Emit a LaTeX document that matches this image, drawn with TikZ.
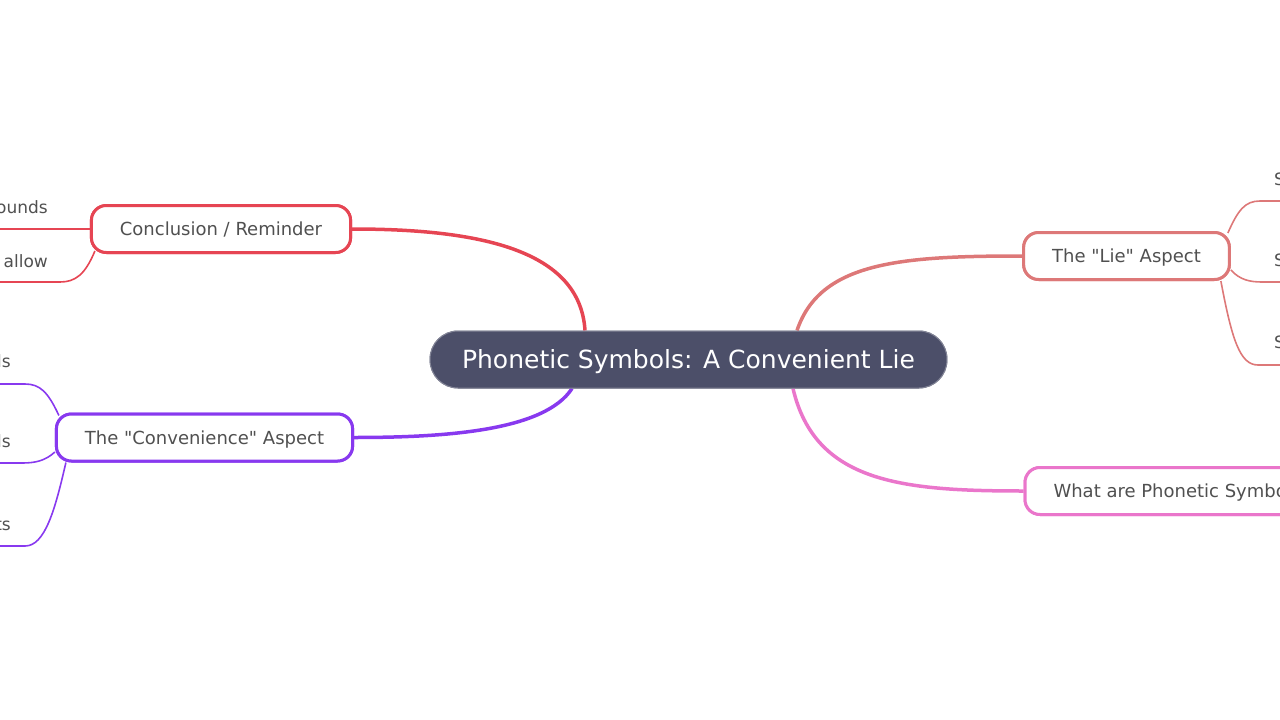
\documentclass[tikz,border=0pt]{standalone}
\usepackage{fontspec}
\setmainfont[Ligatures=TeXOff]{DejaVu Sans}
\definecolor{cfill}{HTML}{4C4F69}
\definecolor{ctext}{HTML}{505050}
\definecolor{cred}{HTML}{E64553}
\definecolor{cpurple}{HTML}{8839EF}
\definecolor{csalmon}{HTML}{DD7878}
\definecolor{cpink}{HTML}{EA76CB}
\tikzset{
  centralbox/.style={fill=cfill, draw=cfill!70!white, line width=1pt, rounded corners=28pt,
    minimum height=57pt, inner xsep=32pt, text height=18pt, text depth=0pt,
    text=white, font=\fontsize{25}{30}\selectfont},
  mainbox/.style={draw=#1, fill=white, line width=3pt, rounded corners=15pt,
    minimum height=47pt, inner xsep=28.5pt, text height=13pt, text depth=0pt,
    text=ctext, font=\fontsize{18}{22}\selectfont},
  leaftext/.style={inner sep=0pt, text=ctext, font=\fontsize{17}{20}\selectfont},
  mainlink/.style={draw=#1, line width=3.5pt},
  leaflink/.style={draw=#1, line width=1.6pt}
}
\begin{document}
\begin{tikzpicture}[x=1pt, y=-1pt]
\useasboundingbox (0,0) rectangle (1280,720);
% nodes
\node[centralbox] (c) at (688.5,359.5) {Phonetic Symbols: A Convenient Lie};
\node[mainbox=cred] (con) at (221,229) {Conclusion / Reminder};
\node[mainbox=cpurple] (conv) at (204.5,437.5) {The "Convenience" Aspect};
\node[mainbox=csalmon] (lie) at (1126.5,256) {The "Lie" Aspect};
\node[mainbox=cpink, anchor=west] (what) at (1023.5,491) {What are Phonetic Symbols?};
% leaf texts
\node[leaftext, anchor=base east] (l1) at (48,213) {ounds};
\node[leaftext, anchor=base east] (l2) at (48,267) {allow};
\node[leaftext, anchor=base east] (l3) at (11,367) {ls};
\node[leaftext, anchor=base east] (l4) at (11,447) {ls};
\node[leaftext, anchor=base east] (l5) at (11,530) {ts};
\node[leaftext, anchor=base west] (r1) at (1274,185) {S};
\node[leaftext, anchor=base west] (r2) at (1274,266) {S};
\node[leaftext, anchor=base west] (r3) at (1274,348) {S};
% leaf line ends
\coordinate (e1) at (-40,229);
\coordinate (e2) at (-40,282);
\coordinate (e3) at (-40,384);
\coordinate (e4) at (-40,463);
\coordinate (e5) at (-40,546);
\coordinate (f1) at (1320,201);
\coordinate (f2) at (1320,282);
\coordinate (f3) at (1320,365);
% main links
\draw[mainlink=cred] ([xshift=-103.5pt]c.north) .. controls (580,250) and (480,229) .. (con.east);
\draw[mainlink=cpurple] ([xshift=-116.5pt]c.south) .. controls (545,430) and (450,437.5) .. (conv.east);
\draw[mainlink=csalmon] ([xshift=108.5pt]c.north) .. controls (820,262) and (900,256) .. (lie.west);
\draw[mainlink=cpink] ([xshift=104.5pt]c.south) .. controls (815,482) and (900,491) .. (what.west);
% leaf links
\draw[leaflink=cred] (con.west) -- (e1);
\draw[leaflink=cred] ([xshift=5pt,yshift=3pt]con.south west) .. controls (85,275) and (75,282) .. (60,282) -- (e2);
\draw[leaflink=cpurple] ([xshift=4pt,yshift=-3pt]conv.north west) .. controls (48,392) and (40,384) .. (25,384) -- (e3);
\draw[leaflink=cpurple] ([yshift=-14.5pt]conv.west) .. controls (45,461) and (35,463) .. (22,463) -- (e4);
\draw[leaflink=cpurple] ([xshift=11pt]conv.south west) .. controls (55,510) and (45,546) .. (25,546) -- (e5);
\draw[leaflink=csalmon] ([xshift=-3pt,yshift=-2pt]lie.north east) .. controls (1238,210) and (1245,201) .. (1260,201) -- (f1);
\draw[leaflink=csalmon] ([yshift=-14pt]lie.east) .. controls (1240,280) and (1250,282) .. (1262,282) -- (f2);
\draw[leaflink=csalmon] ([xshift=-10pt]lie.south east) .. controls (1232,340) and (1240,365) .. (1258,365) -- (f3);
% redraw nodes on top
\node[centralbox] at (c) {Phonetic Symbols: A Convenient Lie};
\node[mainbox=cred] at (con) {Conclusion / Reminder};
\node[mainbox=cpurple] at (conv) {The "Convenience" Aspect};
\node[mainbox=csalmon] at (lie) {The "Lie" Aspect};
\node[mainbox=cpink, anchor=west] at (what.west) {What are Phonetic Symbols?};
\end{tikzpicture}
\end{document}
